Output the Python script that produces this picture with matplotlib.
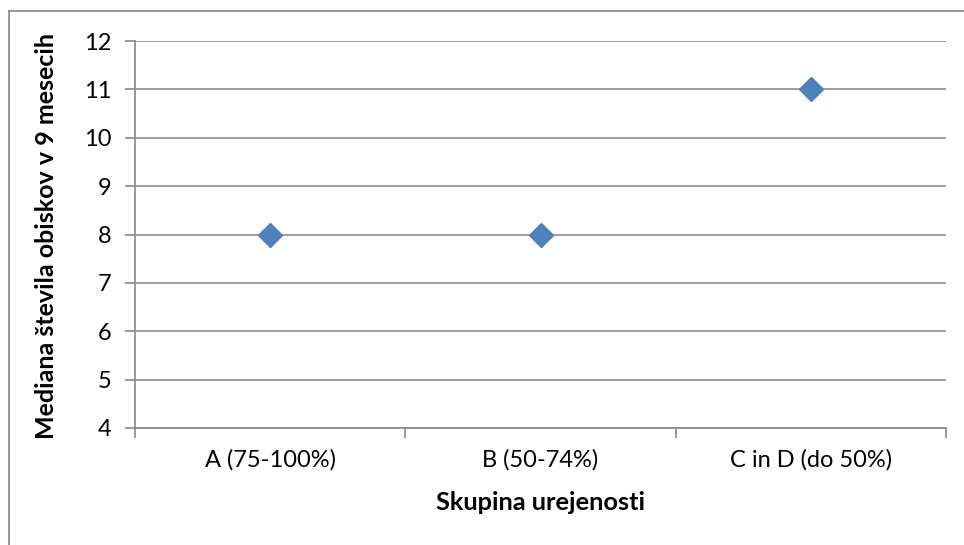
import matplotlib
matplotlib.use("Agg")
import matplotlib.pyplot as plt
from matplotlib.lines import Line2D

categories = ["A (75-100%)", "B (50-74%)", "C in D (do 50%)"]
values = [8, 8, 11]
y_ticks = [4, 5, 6, 7, 8, 9, 10, 11, 12]

plt.rcParams['font.family'] = ['Lato', 'DejaVu Sans']

fig = plt.figure(figsize=(9.64, 5.45), dpi=100)
ax = fig.add_axes([135/964, 1-428/545, (946-135)/964, (428-41)/545])

x = list(range(len(categories)))
ax.plot(x, values, linestyle='none', marker='D', markersize=12,
        color='#4F81BD', markeredgecolor='#4A7EBB', zorder=5)

ax.set_xlim(-0.5, len(categories) - 0.5)
ax.set_ylim(min(y_ticks), max(y_ticks))
ax.set_yticks(y_ticks)
ax.set_xticks(x)
ax.set_xticklabels(categories, fontsize=17)
ax.set_xticks([i - 0.5 for i in range(len(categories) + 1)], minor=True)
ax.tick_params(axis='x', which='major', length=0, pad=15)
ax.tick_params(axis='x', which='minor', length=7, color='#888888', width=1.2)
ax.tick_params(axis='y', length=7, color='#888888', width=1.2, labelsize=17, pad=10)

ax.grid(axis='y', color='#8c8c8c', linewidth=1.2)
ax.set_axisbelow(True)
for s in ['top', 'right']:
    ax.spines[s].set_visible(False)
for s in ['left', 'bottom']:
    ax.spines[s].set_color('#888888')
    ax.spines[s].set_linewidth(1.2)

fig.text(47/964, 1-236/545, "Mediana števila obiskov v 9 mesecih", rotation=90,
         ha='center', va='center', fontsize=18, fontweight='bold')
fig.text(541/964, 1-502/545, "Skupina urejenosti", ha='center', va='center',
         fontsize=18.3, fontweight='bold')

# outer chart border (top and left visible)
fig.add_artist(Line2D([9/964, 1], [1-11/545, 1-11/545], color='#888888', lw=1.2,
                      transform=fig.transFigure))
fig.add_artist(Line2D([9/964, 9/964], [0, 1-11/545], color='#888888', lw=1.2,
                      transform=fig.transFigure))

fig.savefig("out.png", dpi=100, facecolor='white')
